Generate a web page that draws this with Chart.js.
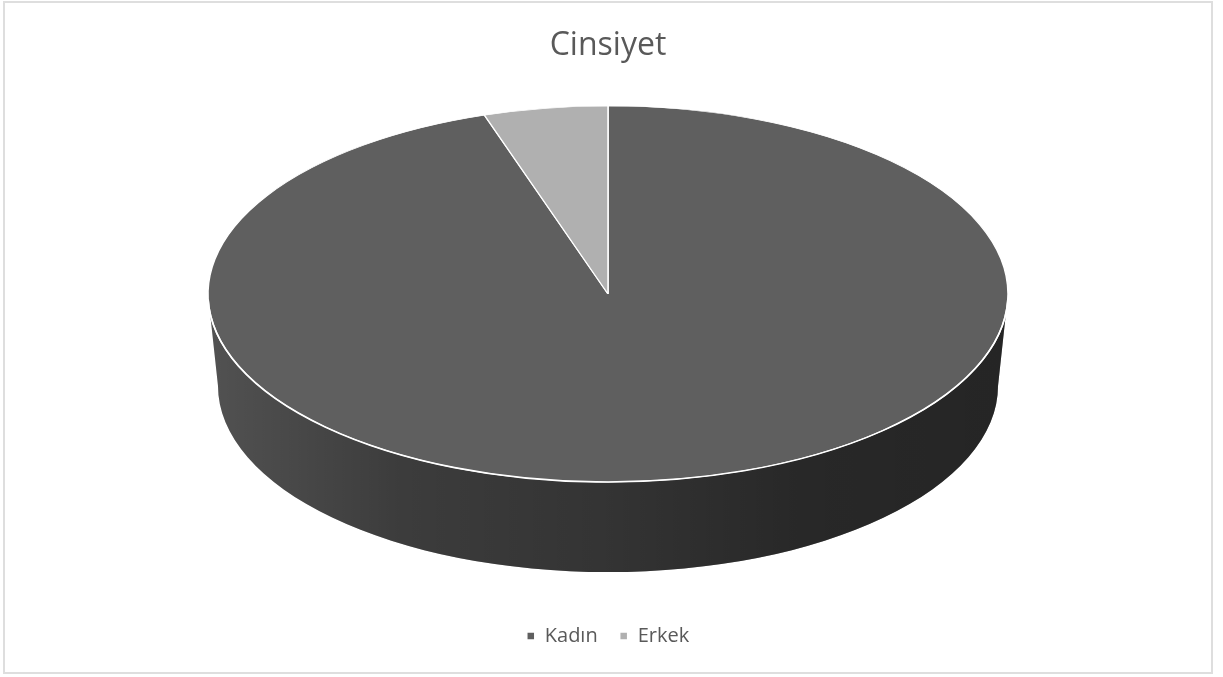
<!DOCTYPE html>
<html>
<head>
<meta charset="utf-8">
<script src="https://cdn.jsdelivr.net/npm/chart.js@4.4.1/dist/chart.umd.min.js"></script>
<style>
  html, body { margin: 0; padding: 0; background: #ffffff; }
  #frame {
    position: absolute; left: 3px; top: 1px;
    width: 1206px; height: 669px;
    border: 2px solid #dedede; background: #ffffff;
  }
  #chart { display: block; }
</style>
</head>
<body>
<div id="frame"><canvas id="chart" width="1206" height="669"></canvas></div>
<script>
// ---- data ----
const categories = ['Kadın', 'Erkek'];
const values = [95, 5];
const sliceColors = ['#5f5f5f', '#b0b0b0'];
const chartTitle = 'Cinsiyet';

// ---- 3D look (layout only) ----
const TILT = 0.47;          // vertical squash of the pie face
const DEPTH = 92;           // thickness of the cylinder side
const FACE_CY = 291;        // canvas y of the pie-face centre
const BOTTOM_SX = 0.975;    // perspective narrowing of the bottom rim
const BOTTOM_SY = 0.99;

const pie3d = {
  id: 'pie3d',
  beforeDatasetsDraw(chart) {
    const ctx = chart.ctx;
    const meta = chart.getDatasetMeta(0);
    const arcs = meta.data;
    if (!arcs.length) return;
    const cx = arcs[0].x, cy = arcs[0].y, R = arcs[0].outerRadius;
    const ry = R * TILT;
    // cylinder side for the front half (angles 0..PI) of each slice
    arcs.forEach((arc, i) => {
      const ranges = [];
      [0, 2 * Math.PI, -2 * Math.PI].forEach(off => {
        const a0 = Math.max(arc.startAngle, 0 + off);
        const a1 = Math.min(arc.endAngle, Math.PI + off);
        if (a1 > a0) ranges.push([a0 - off, a1 - off]);
      });
      ranges.forEach(([a0, a1]) => {
        const path = () => {
          ctx.beginPath();
          ctx.ellipse(cx, FACE_CY, R, ry, 0, a0, a1, false);
          ctx.ellipse(cx, FACE_CY + DEPTH, R * BOTTOM_SX, ry * BOTTOM_SY, 0, a1, a0, true);
          ctx.closePath();
        };
        ctx.save();
        path();
        ctx.fillStyle = sliceColors[i];
        ctx.fill();
        const g = ctx.createLinearGradient(cx - R, 0, cx + R, 0);
        g.addColorStop(0, 'rgba(0,0,0,0.14)');
        g.addColorStop(0.24, 'rgba(0,0,0,0.37)');
        g.addColorStop(0.5, 'rgba(0,0,0,0.46)');
        g.addColorStop(0.74, 'rgba(0,0,0,0.58)');
        g.addColorStop(1, 'rgba(0,0,0,0.61)');
        path();
        ctx.fillStyle = g;
        ctx.fill();
        ctx.restore();
      });
    });
    // squash the library's own pie into the tilted face
    ctx.save();
    ctx.translate(cx, FACE_CY);
    ctx.scale(1, TILT);
    ctx.translate(-cx, -cy);
  },
  afterDatasetsDraw(chart) {
    const ctx = chart.ctx;
    ctx.restore();
    const arcs = chart.getDatasetMeta(0).data;
    if (!arcs.length) return;
    const cx = arcs[0].x, R = arcs[0].outerRadius;
    ctx.save();
    ctx.beginPath();
    ctx.ellipse(cx, FACE_CY, R, R * TILT, 0, 0.03, Math.PI - 0.03, false);
    ctx.strokeStyle = '#ffffff';
    ctx.lineWidth = 1.6;
    ctx.stroke();
    ctx.restore();
  }
};

new Chart(document.getElementById('chart'), {
  type: 'pie',
  data: {
    labels: categories,
    datasets: [{
      data: values,
      backgroundColor: sliceColors,
      borderColor: '#ffffff',
      borderWidth: 1.5,
      radius: 400
    }]
  },
  options: {
    responsive: false,
    animation: false,
    layout: { padding: { bottom: 16 } },
    plugins: {
      title: {
        display: true,
        text: chartTitle,
        color: '#595959',
        font: { family: '"Open Sans", sans-serif', size: 32, weight: 'normal' },
        padding: { top: 24, bottom: 10 }
      },
      legend: {
        position: 'bottom',
        labels: {
          color: '#595959',
          boxWidth: 8,
          boxHeight: 8,
          padding: 22,
          font: { family: '"Open Sans", sans-serif', size: 20 }
        }
      },
      tooltip: { enabled: false }
    }
  },
  plugins: [pie3d]
});
</script>
</body>
</html>
